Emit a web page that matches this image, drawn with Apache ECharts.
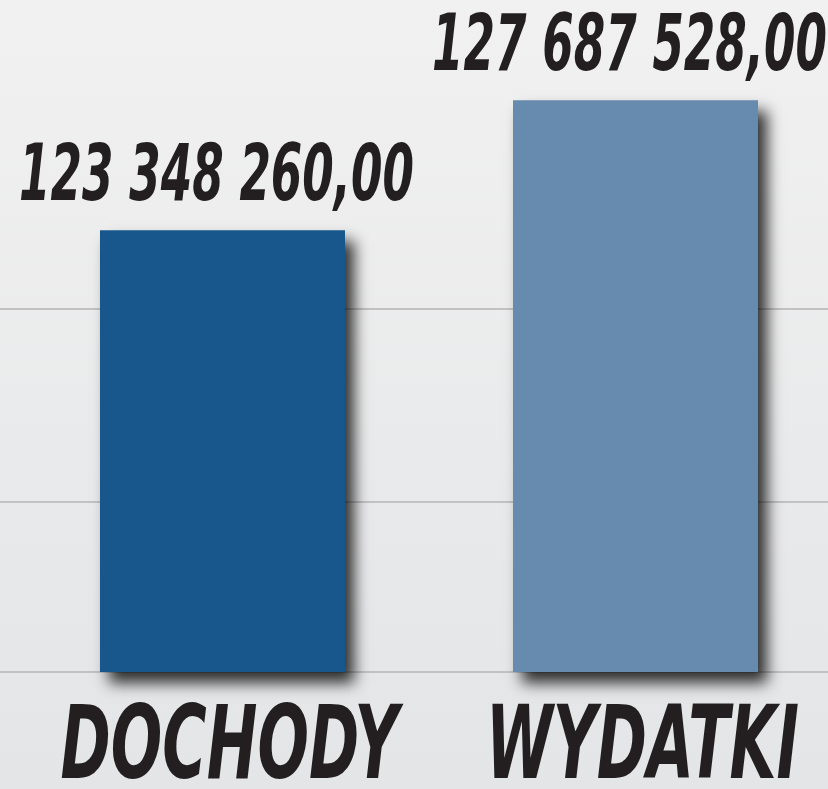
<!DOCTYPE html>
<html>
<head>
<meta charset="utf-8">
<script src="https://cdn.jsdelivr.net/npm/echarts@6/dist/echarts.min.js"></script>
<style>
  html, body { margin: 0; padding: 0; }
  #chart { width: 828px; height: 789px; }
</style>
</head>
<body>
<div id="chart"></div>
<script>
  // dane
  var categories = ['DOCHODY', 'WYDATKI'];
  var values = [123348260, 127687528];
  var barColors = ['#18578c', '#678aaf'];
  var guideLines = [114280000, 120720000]; // linie pomocnicze w tle
  var yMin = 108600000;
  var yMax = 130000000;

  var font = '"DejaVu Sans", sans-serif';

  function fmt(v) {
    var s = Math.round(v).toString().replace(/\B(?=(\d{3})+(?!\d))/g, ' ');
    return s + ',00';
  }

  var myChart = echarts.init(document.getElementById('chart'));
  myChart.setOption({
    animation: false,
    backgroundColor: {
      type: 'linear', x: 0, y: 0, x2: 0, y2: 1,
      colorStops: [
        { offset: 0, color: '#f1f1f1' },
        { offset: 1, color: '#e4e5e7' }
      ]
    },
    grid: { left: 0, right: 0, top: 31, bottom: 117, outerBoundsMode: 'none' },
    // os x liczbowa: kategoria i -> pozycja i
    xAxis: {
      type: 'value',
      min: -0.5387,
      max: 1.4661,
      axisLine: { show: true, onZero: false, lineStyle: { color: '#c2c2c2', width: 2 } },
      axisTick: { show: false },
      axisLabel: { show: false },
      splitLine: { show: false }
    },
    yAxis: {
      type: 'value',
      min: yMin,
      max: yMax,
      show: false,
      splitLine: { show: false }
    },
    series: [{
      type: 'bar',
      barWidth: 245,
      data: values.map(function (v, i) {
        return { value: [i, v], itemStyle: { color: barColors[i] } };
      }),
      itemStyle: {
        shadowBlur: 14,
        shadowOffsetX: 9,
        shadowOffsetY: 11,
        shadowColor: 'rgba(0,0,0,0.8)'
      },
      markLine: {
        silent: true,
        symbol: 'none',
        z: 0,
        label: { show: false },
        lineStyle: { color: '#c2c2c2', width: 2, type: 'solid' },
        data: guideLines.map(function (v) { return { yAxis: v }; })
      }
    }, {
      // wartosci nad slupkami
      type: 'custom',
      data: values.map(function (v, i) { return [i, v]; }),
      renderItem: function (params, api) {
        var p = api.coord([api.value(0), api.value(1)]);
        return {
          type: 'text',
          x: p[0] - 6,
          y: p[1] - 51,
          scaleX: 0.58,
          style: {
            text: fmt(api.value(1)),
            font: 'italic bold 78px ' + font,
            fill: '#231f20',
            align: 'center',
            verticalAlign: 'middle'
          }
        };
      }
    }, {
      // nazwy kategorii
      type: 'custom',
      data: categories.map(function (c, i) { return [i, yMin]; }),
      renderItem: function (params, api) {
        var p = api.coord([api.value(0), api.value(1)]);
        return {
          type: 'text',
          x: p[0] + 7,
          y: p[1] + 80,
          scaleX: 0.6,
          style: {
            text: categories[params.dataIndex],
            font: 'italic bold 101px ' + font,
            fill: '#231f20',
            align: 'center',
            verticalAlign: 'middle'
          }
        };
      }
    }]
  });
</script>
</body>
</html>
